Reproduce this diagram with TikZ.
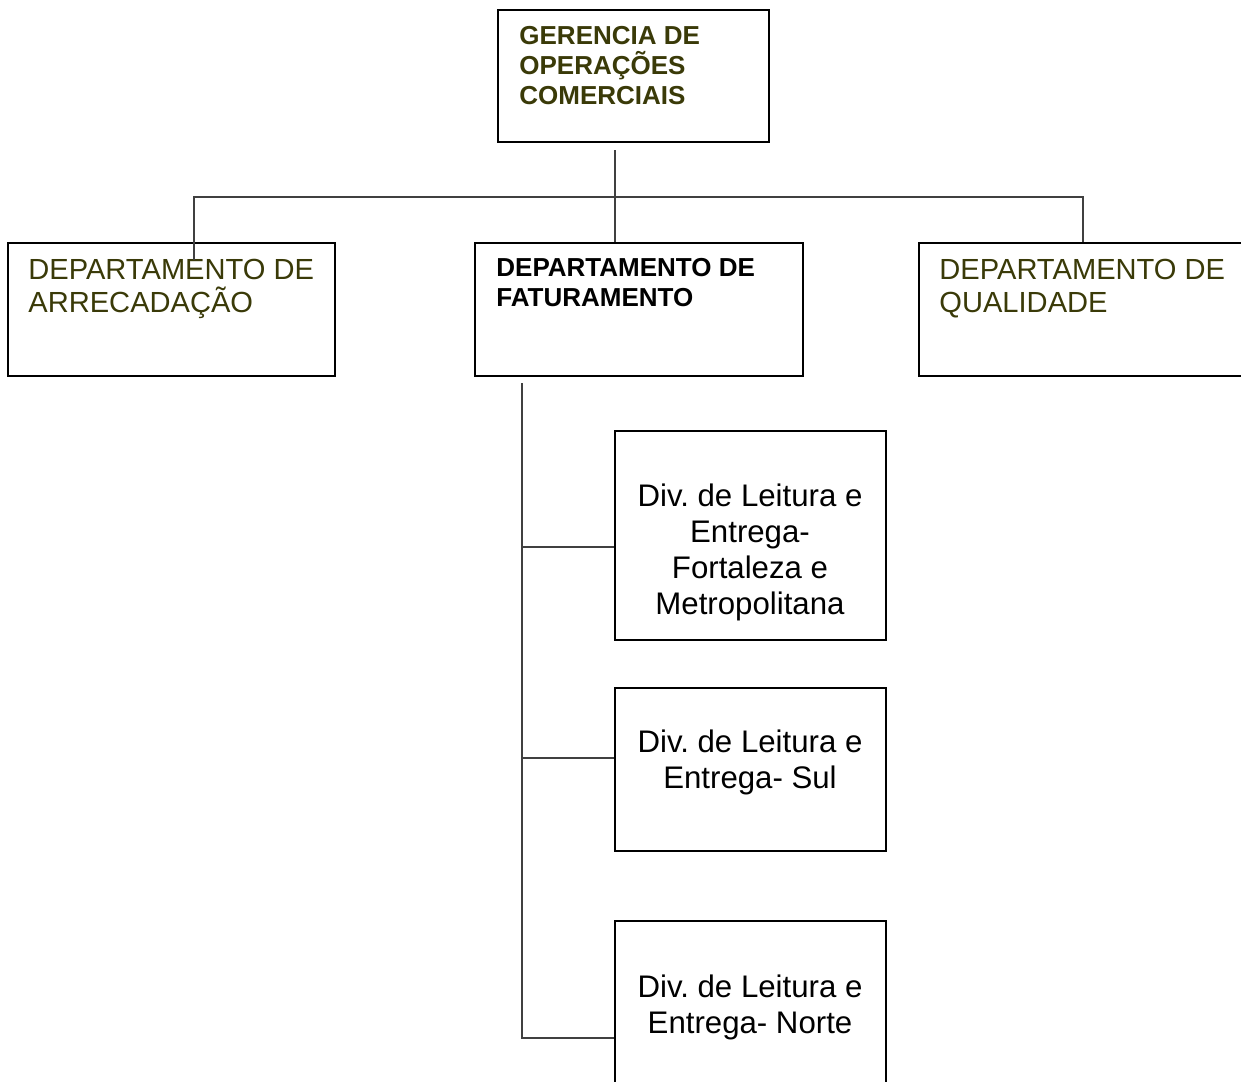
\documentclass[tikz,border=0pt]{standalone}
\usepackage{fontspec}
\setmainfont{Liberation Sans}
\usepackage{tikz}
\usetikzlibrary{fit}
\definecolor{olivetxt}{RGB}{58,58,8}
\frenchspacing

\begin{document}
\begin{tikzpicture}[
  x=0.5pt, y=-0.5pt,
  box/.style={draw,line width=0.75pt,inner sep=0pt},
  conn/.style={draw=black!75,line width=0.75pt},
  hd/.style={font=\fontsize{13}{15}\selectfont\bfseries,align=left,
             inner sep=0pt,anchor=north west},
  dep/.style={font=\fontsize{14.55}{16.5}\selectfont,text=olivetxt,align=left,
              inner sep=0pt,anchor=north west},
  dv/.style={font=\fontsize{15.6}{18}\selectfont,align=center,
             inner sep=0pt,anchor=north}
]
\useasboundingbox (0,0) rectangle (1241,1081);
\fill[white] (0,0) rectangle (1241,1081);
\clip (0,0) rectangle (1241,1081);

%% ---- top: gerencia ------------------------------------------------------
\node[box, fit={(498,10) (769,142)}]   (ger) {};
\node[hd, text=olivetxt] (ger-t) at (519,26) {GERENCIA DE\\OPERAÇÕES\\COMERCIAIS};

%% ---- row of departamentos -----------------------------------------------
\node[box, fit={(8,243) (335,376)}]    (arr) {};
\node[box, fit={(475,243) (803,376)}]  (fat) {};
\node[box, fit={(919,243) (1270,376)}] (qua) {};
\node[dep] (arr-t) at (28,259) {DEPARTAMENTO DE\\ARRECADAÇÃO};
\node[hd]  (fat-t) at (496,258) {DEPARTAMENTO DE\\FATURAMENTO};
\node[dep] (qua-t) at (939,259) {DEPARTAMENTO DE\\QUALIDADE};

%% ---- divisoes under faturamento -----------------------------------------
\node[box, fit={(615,431) (886,640)}]  (div1) {};
\node[box, fit={(615,688) (886,851)}]  (div2) {};
\node[box, fit={(615,921) (886,1110)}] (div3) {};
\node[dv] (div1-t) at (750,483) {Div. de Leitura e\\Entrega-\\Fortaleza e\\Metropolitana};
\node[dv] (div2-t) at (750,729) {Div. de Leitura e\\Entrega- Sul};
\node[dv] (div3-t) at (750,974) {Div. de Leitura e\\Entrega- Norte};

%% ---- connectors ---------------------------------------------------------
\coordinate (ger-out) at (615,150);
\coordinate (bus-l)   at (194,197);
\coordinate (bus-r)   at (1083,197);
\coordinate (arr-in)  at (194,260);
\coordinate (trunk)   at (522,383);
\draw[conn] (ger-out) -- (ger-out |- fat.north);
\draw[conn] (arr-in) -- (bus-l) -- (bus-r) -- (bus-r |- qua.north);
\draw[conn] (trunk) -- (trunk |- 0,1038) -- (div3.west |- 0,1038);
\draw[conn] (trunk |- 0,547) -- (div1.west |- 0,547);
\draw[conn] (trunk |- 0,758) -- (div2.west |- 0,758);
\end{tikzpicture}
\end{document}
